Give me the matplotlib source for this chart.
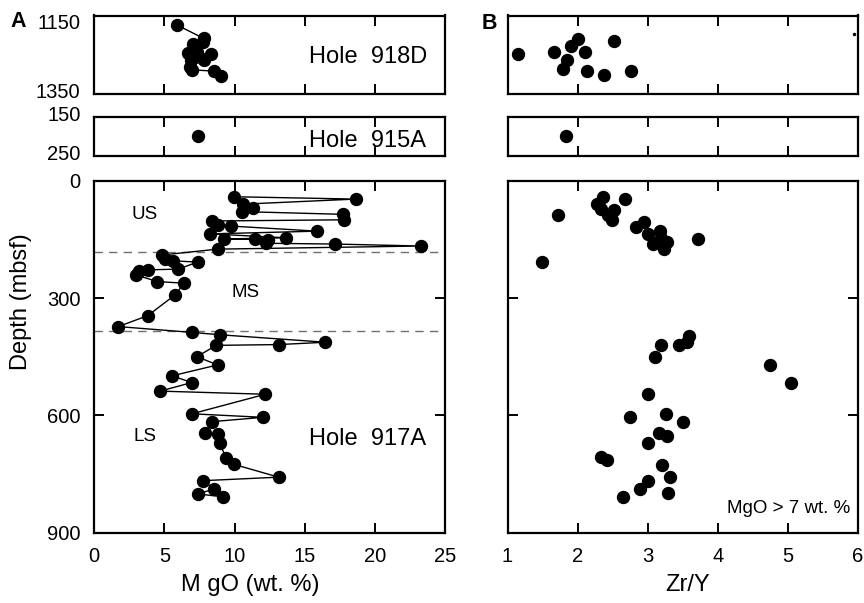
import matplotlib
matplotlib.use("Agg")
import matplotlib.pyplot as plt
from matplotlib.transforms import ScaledTranslation

plt.rcParams['font.family'] = ['Liberation Sans', 'DejaVu Sans']

# ---- Hole 918D (top panels) ----
mgo_918 = [5.89, 7.79, 7.74, 7.03, 7.31, 6.71, 8.31, 6.89, 7.79, 6.79, 6.96, 8.5, 9.03]
dep_918_mgo = [1174, 1208, 1216, 1223, 1242, 1246, 1248, 1263, 1264, 1280, 1288, 1291, 1304]
zry_918 = [1.15, 1.67, 1.91, 2.01, 2.11, 2.52, 1.85, 1.79, 2.13, 2.37, 2.76]
dep_918_zry = [1247, 1243, 1227, 1210, 1243, 1214, 1264, 1285, 1292, 1302, 1292]
stray_918 = (5.95, 1198)   # tiny dot near the right edge

# ---- Hole 915A (middle panels) ----
mgo_915, dep_915_mgo = [7.4], [199]
zry_915, dep_915_zry = [1.84], [198]

# ---- Hole 917A (bottom panels) ----
mgo_917 = [9.93, 18.62, 10.57, 11.31, 10.53, 17.71, 17.79, 8.39, 8.79, 9.74,
           15.89, 8.26, 13.69, 9.26, 11.48, 12.39, 12.26, 17.19, 23.26, 8.79,
           4.81, 5.05, 5.64, 7.36, 6.0, 3.81, 3.21, 2.98, 4.5, 6.41,
           5.76, 3.81, 1.71,
           7.0, 8.98, 16.48, 13.14, 8.69, 7.31, 8.79, 5.53, 6.96, 4.69,
           12.19, 6.96, 12.03, 8.39, 7.86, 8.81, 8.93, 9.39, 9.93, 13.14,
           7.74, 8.55, 7.39, 9.14]
dep_917_mgo = [41, 47, 60, 71, 79, 86, 100, 103, 113, 116,
               129, 136, 146, 149, 150, 152, 160, 162, 167, 175,
               190, 201, 205, 208, 226, 228, 231, 241, 258, 262,
               292, 345, 373,
               388, 394, 413, 419, 421, 450, 471, 499, 516, 538,
               546, 596, 605, 616, 646, 648, 671, 708, 725, 758,
               767, 788, 801, 808]
zry_917 = [2.36, 2.68, 2.27, 2.34, 2.52, 2.44, 1.72, 2.49, 2.95, 2.83,
           3.18, 3.01, 3.72, 3.19, 3.15, 3.27, 3.08, 3.23, 1.49,
           3.59, 3.56, 3.44, 3.19, 3.11, 4.75, 5.05, 3.01, 3.26, 2.75,
           3.51, 3.16, 3.27, 3.0, 2.34, 2.42, 3.21, 3.32, 3.0, 2.89,
           3.29, 2.65]
dep_917_zry = [41, 47, 60, 73, 75, 88, 88, 100, 105, 118,
               129, 136, 150, 147, 156, 156, 162, 175, 209,
               396, 412, 420, 420, 450, 471, 516, 546, 596, 605,
               616, 646, 652, 671, 707, 714, 727, 758, 767, 788,
               799, 808]

# unit boundaries (mbsf)
boundaries = [181.5, 383.5]

W, H = 864, 603
fig = plt.figure(figsize=(8.64, 6.03), dpi=100)


def box(x0, y0, x1, y1):
    # pixel box -> figure fraction rect
    return [x0 / W, 1 - y1 / H, (x1 - x0) / W, (y1 - y0) / H]


def nudge(label, dy_px):
    # shift a tick label vertically by some pixels (positive = up)
    off = ScaledTranslation(0, dy_px / 100.0, fig.dpi_scale_trans)
    label.set_transform(label.get_transform() + off)


lx0, lx1 = 94.3, 445.0
rx0, rx1 = 507.5, 858.0
rows = [(15.5, 94.3), (117.3, 155.7), (180.7, 532.7)]

axes = []
for (y0, y1) in rows:
    axL = fig.add_axes(box(lx0, y0, lx1, y1))
    axR = fig.add_axes(box(rx0, y0, rx1, y1))
    axes.append((axL, axR))

mk = dict(marker='o', ms=8.6, color='black', mec='black')
tick_kw = dict(direction='in', length=7, width=1.4, labelsize=14.5, pad=10)

for i, (axL, axR) in enumerate(axes):
    for ax in (axL, axR):
        for s in ax.spines.values():
            s.set_linewidth(1.6)
        ax.tick_params(axis='x', which='both', top=True, bottom=True, **tick_kw)
        ax.tick_params(axis='y', which='both', **tick_kw)
    axL.set_xlim(0, 25)
    axL.set_xticks([0, 5, 10, 15, 20, 25])
    axR.set_xlim(1, 6)
    axR.set_xticks([1, 2, 3, 4, 5, 6])
    if i < 2:
        axL.tick_params(axis='x', labelbottom=False)
        axR.tick_params(axis='x', labelbottom=False)

# top row: Hole 918D
axL, axR = axes[0]
axL.plot(mgo_918, dep_918_mgo, '-', lw=1, **mk)
axR.plot(zry_918, dep_918_zry, 'o', ms=8.6, color='black')
axR.plot([stray_918[0]], [stray_918[1]], 'o', ms=1.5, color='black')
for ax in (axL, axR):
    ax.set_ylim(1350, 1150)
axL.set_yticks([1150, 1350])
axL.tick_params(axis='y', length=0)
labs = axL.get_yticklabels()
nudge(labs[0], -6)
nudge(labs[1], 4)
axR.set_yticks([])
axL.text(15.3, 1255, 'Hole  918D', fontsize=17, va='center', ha='left')

# middle row: Hole 915A
axL, axR = axes[1]
axL.plot(mgo_915, dep_915_mgo, 'o', ms=8.6, color='black')
axR.plot(zry_915, dep_915_zry, 'o', ms=8.6, color='black')
for ax in (axL, axR):
    ax.set_ylim(250, 150)
axL.set_yticks([150, 250])
axL.tick_params(axis='y', length=0)
labs = axL.get_yticklabels()
nudge(labs[0], 4)
nudge(labs[1], 3)
axR.set_yticks([])
axL.text(15.3, 213, 'Hole  915A', fontsize=17, va='center', ha='left')

# bottom row: Hole 917A
axL, axR = axes[2]
for b in boundaries:
    axL.axhline(b, xmin=0, xmax=0.986, color='#707070', lw=1, dashes=(6, 4.5))
axL.plot(mgo_917, dep_917_mgo, '-', lw=1, **mk)
axR.plot(zry_917, dep_917_zry, 'o', ms=8.6, color='black')
for ax in (axL, axR):
    ax.set_ylim(900, 0)
    ax.set_yticks([0, 300, 600, 900])
    ax.tick_params(axis='y', left=True, right=True)
axR.tick_params(axis='y', labelleft=False)

axL.text(2.67, 86, 'US', fontsize=13.5, va='center', ha='left')
axL.text(9.8, 285, 'MS', fontsize=13.5, va='center', ha='left')
axL.text(2.79, 654, 'LS', fontsize=13.5, va='center', ha='left')
axL.text(15.3, 661, 'Hole  917A', fontsize=17, va='center', ha='left')
axR.text(5.89, 837, 'MgO > 7 wt. %', fontsize=13.5, va='center', ha='right')

axL.set_xlabel('M gO (wt. %)', fontsize=17)
axL.xaxis.set_label_coords(0.445, -0.118)
axR.set_xlabel('Zr/Y', fontsize=17)
axR.xaxis.set_label_coords(0.515, -0.118)

fig.text(21 / W, 1 - 302 / H, 'Depth (mbsf)', fontsize=17, rotation=90,
         ha='center', va='center')
fig.text(26 / W, 1 - 21.7 / H, 'A', fontsize=15.5, fontweight='bold',
         ha='right', va='center')
fig.text(497 / W, 1 - 23.3 / H, 'B', fontsize=15.5, fontweight='bold',
         ha='right', va='center')

fig.savefig('out.png', dpi=100)
